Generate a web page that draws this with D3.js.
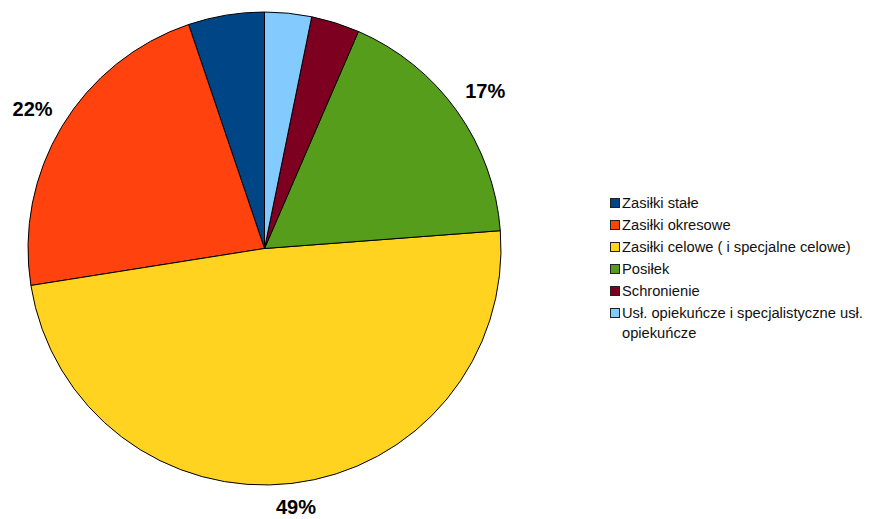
<!DOCTYPE html>
<html>
<head>
<meta charset="utf-8">
<script src="https://cdn.jsdelivr.net/npm/d3@7"></script>
<style>
body { margin: 0; background: #fff; }
</style>
</head>
<body>
<script>
// categories & values (percent), counter-clockwise from 12 o'clock
var categories = ["Zasiłki stałe", "Zasiłki okresowe", "Zasiłki celowe ( i specjalne celowe)",
                  "Posiłek", "Schronienie", "Usł. opiekuńcze i specjalistyczne usł. opiekuńcze"];
var values = [5.2, 22.3, 48.7, 17.3, 3.3, 3.2];
var colors = ["#004586", "#ff420e", "#ffd320", "#579d1c", "#7e0021", "#83caff"];

var W = 870, H = 519;
var svg = d3.select("body").append("svg")
    .attr("width", W)
    .attr("height", H);

var cx = 264.5, cy = 248.5, r = 236.5;

var data = categories.map(function(c, i) { return {name: c, value: values[i], color: colors[i]}; });

var pie = d3.pie()
    .sort(null)
    .value(function(d) { return d.value; })
    .startAngle(0)
    .endAngle(-2 * Math.PI);

var arc = d3.arc().innerRadius(0).outerRadius(r);
var labelArc = d3.arc().innerRadius(271).outerRadius(271);

var g = svg.append("g")
    .attr("transform", "translate(" + cx + "," + cy + ")");

var slices = pie(data);

g.selectAll("path")
    .data(slices)
  .enter().append("path")
    .attr("d", arc)
    .attr("fill", function(d) { return d.data.color; })
    .attr("stroke", "#000")
    .attr("stroke-width", 1);

// percentage labels only on the larger slices, kept inside the page
g.selectAll("text.pct")
    .data(slices.filter(function(d) { return d.data.value > 10; }))
  .enter().append("text")
    .attr("class", "pct")
    .attr("transform", function(d) {
      var p = labelArc.centroid(d);
      p[1] = Math.min(p[1], H - cy - 12.5);
      return "translate(" + p + ")";
    })
    .attr("text-anchor", "middle")
    .attr("dy", "0.36em")
    .style("font-family", "Liberation Sans, Arial, sans-serif")
    .style("font-weight", "bold")
    .style("font-size", "20px")
    .text(function(d) { return Math.round(d.data.value) + "%"; });

// legend
var legend = svg.append("g").attr("transform", "translate(610,203)");
var rowH = 22;

var item = legend.selectAll("g")
    .data(data)
  .enter().append("g")
    .attr("transform", function(d, i) { return "translate(0," + (i * rowH) + ")"; });

item.append("rect")
    .attr("x", 0.5)
    .attr("y", -4.5)
    .attr("width", 9)
    .attr("height", 9)
    .attr("fill", function(d) { return d.color; })
    .attr("stroke", "#222")
    .attr("stroke-width", 1);

item.append("text")
    .attr("x", 12)
    .attr("dy", "0.35em")
    .style("font-family", "Liberation Sans, Arial, sans-serif")
    .style("font-size", "14.7px")
    .style("fill", "#111")
    .each(function(d) {
      var t = d3.select(this);
      if (d.name.indexOf("Usł.") === 0) {
        t.append("tspan").attr("x", 12).text("Usł. opiekuńcze i specjalistyczne usł.");
        t.append("tspan").attr("x", 12).attr("dy", "1.36em").text("opiekuńcze");
      } else {
        t.text(d.name);
      }
    });
</script>
</body>
</html>
